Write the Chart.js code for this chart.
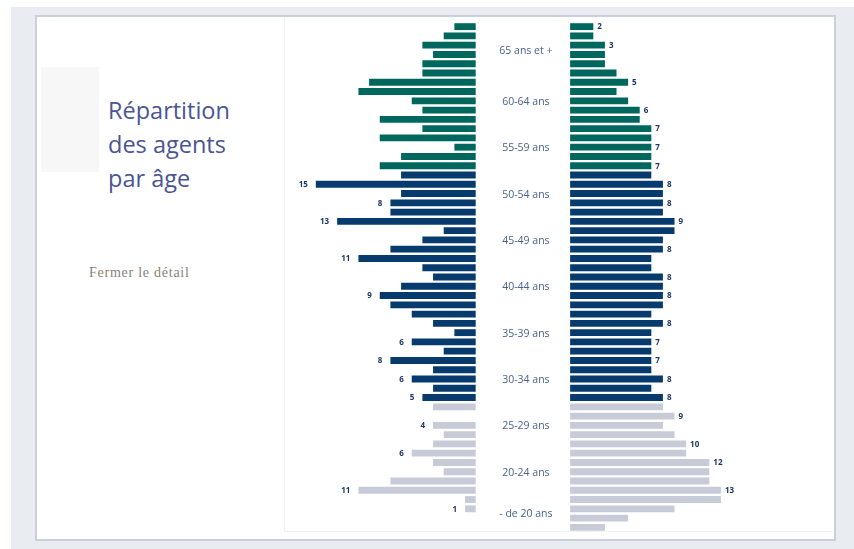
<!DOCTYPE html>
<html>
<head>
<meta charset="utf-8">
<script src="https://cdn.jsdelivr.net/npm/chart.js@4"></script>
<style>
  html, body { margin: 0; padding: 0; background: #ffffff; }
  body { width: 854px; height: 549px; position: relative; overflow: hidden; }
  #outer { position: absolute; left: 11px; top: 7px; width: 843px; height: 542px; background: #e9ecf1; }
  #card { position: absolute; left: 35px; top: 15px; width: 797px; height: 522px; background: #ffffff; border: 2px solid #cbcfdb; }
  #square { position: absolute; left: 41px; top: 67px; width: 58px; height: 105px; background: #f7f7f7; }
  #panel { position: absolute; left: 284px; top: 17px; width: 548px; height: 514px; border-left: 1px solid #f1f1f1; border-bottom: 1px solid #f1f1f1; }
  #title { position: absolute; left: 108px; top: 93px; font-family: "Open Sans", sans-serif; font-size: 23.5px; line-height: 34px; color: #4b5494; font-weight: 400; }
  #close { position: absolute; left: 89px; top: 265px; font-family: "Liberation Serif", serif; font-size: 14px; letter-spacing: 0.75px; color: #8a7f78; }
  #chart { position: absolute; left: 290px; top: 22px; }
</style>
</head>
<body>
<div id="outer"></div>
<div id="card"></div>
<div id="square"></div>
<div id="panel"></div>
<div id="title">Répartition<br>des agents<br>par âge</div>
<div id="close">Fermer le détail</div>
<canvas id="chart" width="470" height="510"></canvas>
<script>
// One row per age, oldest at the top
const ages = [70, 69, 68, 67, 66, 65, 64, 63, 62, 61, 60, 59, 58, 57, 56, 55,
  54, 53, 52, 51, 50, 49, 48, 47, 46, 45, 44, 43, 42, 41, 40, 39, 38, 37, 36, 35,
  34, 33, 32, 31, 30, 29, 28, 27, 26, 25, 24, 23, 22, 21, 20, 19, 18, 17, 16];

// Left side values
const leftValues = [2, 3, 5, 4, 5, 5, 10, 11, 6, 5, 9, 5, 9, 2, 7, 9,
  7, 15, 7, 8, 8, 13, 3, 5, 8, 11, 5, 4, 7, 9, 8, 6, 4, 2, 6, 3,
  8, 4, 6, 4, 5, 4, 0, 4, 3, 4, 6, 4, 3, 8, 11, 1, 1, 0, 0];

// Right side values
const rightValues = [2, 2, 3, 3, 3, 4, 5, 4, 5, 6, 6, 7, 7, 7, 7, 7,
  7, 8, 8, 8, 8, 9, 9, 8, 8, 7, 7, 8, 8, 8, 8, 7, 8, 7, 7, 7,
  7, 7, 8, 7, 8, 8, 9, 8, 9, 10, 10, 12, 12, 12, 13, 13, 9, 5, 3];

// Ages whose value is printed next to the bar
const leftLabelAges = [53, 51, 49, 45, 41, 36, 34, 32, 30, 27, 24, 20, 18];
const rightLabelAges = [70, 68, 64, 61, 59, 57, 55, 53, 51, 49, 46, 43, 41, 38, 36, 34, 32, 30, 28, 25, 23, 20];

// Age groups (label, oldest age, youngest age)
const groupNames = ["65 ans et +", "60-64 ans", "55-59 ans", "50-54 ans", "45-49 ans", "40-44 ans",
  "35-39 ans", "30-34 ans", "25-29 ans", "20-24 ans", "- de 20 ans"];
const groupOldest = [70, 64, 59, 54, 49, 44, 39, 34, 29, 24, 19];
const groupYoungest = [65, 60, 55, 50, 45, 40, 35, 30, 25, 20, 16];

const TEAL = '#00675f', NAVY = '#083b6d', GREY = '#c7cbd8';
function colorFor(age) {
  if (age >= 55) return TEAL;
  if (age >= 30) return NAVY;
  return GREY;
}

const labelPlugin = {
  id: 'pyramidLabels',
  afterDatasetsDraw(chart) {
    const c = chart.ctx;
    c.save();
    c.font = 'bold 8px "Open Sans", sans-serif';
    c.fillStyle = '#1e3763';
    c.textBaseline = 'middle';
    const lm = chart.getDatasetMeta(0), rm = chart.getDatasetMeta(1);
    lm.data.forEach((bar, i) => {
      if (leftLabelAges.includes(ages[i])) {
        c.textAlign = 'right';
        c.fillText(String(leftValues[i]), bar.x - 8, bar.y + 0.5);
      }
    });
    rm.data.forEach((bar, i) => {
      if (rightLabelAges.includes(ages[i])) {
        c.textAlign = 'left';
        c.fillText(String(rightValues[i]), bar.x + 4, bar.y + 0.5);
      }
    });
    // group labels in the central column
    const y = chart.scales.y;
    const xm = (chart.scales.xL.getPixelForValue(0) + chart.scales.xR.getPixelForValue(0)) / 2 + 3;
    c.font = '10.5px "Open Sans", sans-serif';
    c.fillStyle = '#4a6290';
    c.textAlign = 'center';
    groupNames.forEach((name, g) => {
      const a = ages.indexOf(groupOldest[g]);
      const b = ages.indexOf(groupYoungest[g]);
      const py = (y.getPixelForValue(a) + y.getPixelForValue(b)) / 2;
      c.fillText(name, xm, py + 1);
    });
    c.restore();
  }
};

new Chart(document.getElementById('chart'), {
  type: 'bar',
  data: {
    labels: ages,
    datasets: [
      {
        data: leftValues, xAxisID: 'xL', yAxisID: 'y', grouped: false,
        backgroundColor: ctx => colorFor(ages[ctx.dataIndex]),
        barPercentage: 0.74, categoryPercentage: 1
      },
      {
        data: rightValues, xAxisID: 'xR', yAxisID: 'y', grouped: false,
        backgroundColor: ctx => colorFor(ages[ctx.dataIndex]),
        barPercentage: 0.74, categoryPercentage: 1
      }
    ]
  },
  options: {
    indexAxis: 'y',
    responsive: false,
    animation: false,
    devicePixelRatio: 1,
    layout: { padding: 0 },
    plugins: { legend: { display: false }, tooltip: { enabled: false } },
    scales: {
      y: { type: 'category', display: false, offset: true },
      xL: { type: 'linear', display: false, reverse: true, min: -26.67, max: 17.42 },
      xR: { type: 'linear', display: false, min: -24.15, max: 16.37 }
    }
  },
  plugins: [labelPlugin]
});
</script>
</body>
</html>
